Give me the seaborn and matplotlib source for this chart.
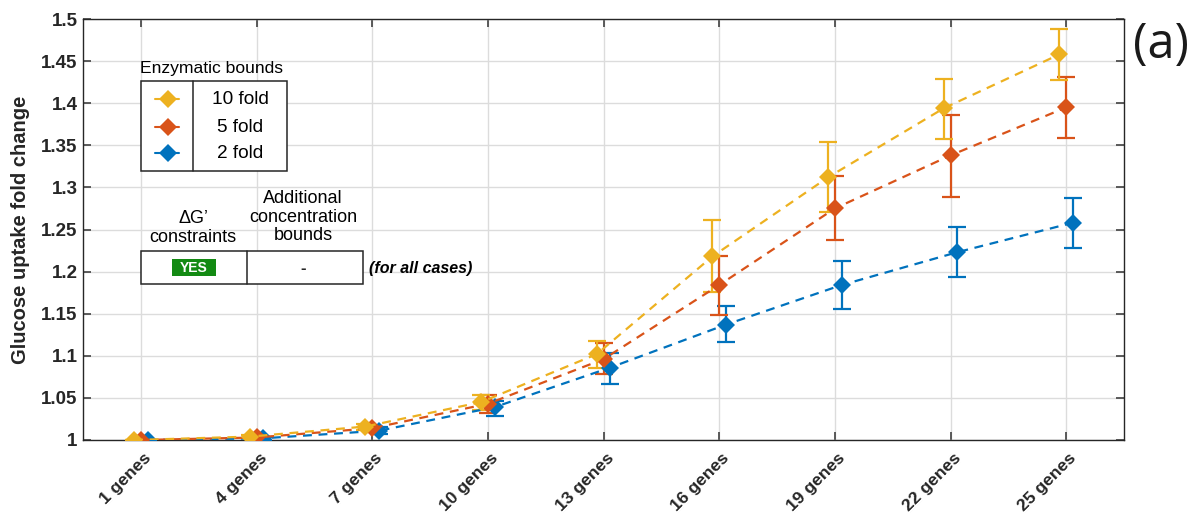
import numpy as np
import pandas as pd
import matplotlib
matplotlib.use("Agg")
import matplotlib.pyplot as plt
import matplotlib.transforms as mtransforms
import seaborn as sns
from matplotlib.patches import Rectangle
from matplotlib.lines import Line2D

# ---------------- data ----------------
categories = ["1 genes", "4 genes", "7 genes", "10 genes", "13 genes",
              "16 genes", "19 genes", "22 genes", "25 genes"]
series_names = ["10 fold", "5 fold", "2 fold"]

mean_10 = [1.000, 1.004, 1.016, 1.045, 1.102, 1.218, 1.312, 1.394, 1.458]
low_10  = [1.000, 1.002, 1.012, 1.036, 1.085, 1.176, 1.271, 1.358, 1.428]
up_10   = [1.000, 1.006, 1.019, 1.054, 1.118, 1.261, 1.354, 1.429, 1.488]

mean_5 = [1.000, 1.003, 1.014, 1.043, 1.096, 1.184, 1.275, 1.338, 1.395]
low_5  = [1.000, 1.001, 1.010, 1.032, 1.078, 1.148, 1.237, 1.289, 1.359]
up_5   = [1.000, 1.005, 1.017, 1.053, 1.115, 1.219, 1.313, 1.386, 1.431]

mean_2 = [1.000, 1.002, 1.011, 1.039, 1.086, 1.137, 1.184, 1.223, 1.258]
low_2  = [1.000, 1.000, 1.007, 1.029, 1.066, 1.116, 1.156, 1.193, 1.228]
up_2   = [1.000, 1.004, 1.015, 1.046, 1.103, 1.159, 1.212, 1.253, 1.287]

yticks = [1, 1.05, 1.1, 1.15, 1.2, 1.25, 1.3, 1.35, 1.4, 1.45, 1.5]
ytick_labels = ["1", "1.05", "1.1", "1.15", "1.2", "1.25", "1.3", "1.35", "1.4", "1.45", "1.5"]

colors = {"10 fold": "#EDB120", "5 fold": "#D95319", "2 fold": "#0072BD"}
offsets = {"10 fold": -0.058, "5 fold": 0.0, "2 fold": 0.058}

data = {
    "10 fold": (mean_10, low_10, up_10),
    "5 fold": (mean_5, low_5, up_5),
    "2 fold": (mean_2, low_2, up_2),
}

# ---------------- style ----------------
sns.set_style("white")
plt.rcParams["font.family"] = ["Liberation Sans", "DejaVu Sans"]

fig = plt.figure(figsize=(12.03, 5.16), dpi=100)
ax = fig.add_axes([83 / 1203, 76 / 516, (1124 - 83) / 1203, (440 - 19) / 516])

xbase = np.arange(len(categories))
for name in ["2 fold", "5 fold", "10 fold"]:
    m, lo, up = (np.array(v) for v in data[name])
    xs = xbase + offsets[name]
    df = pd.DataFrame({"x": xs, "y": m})
    ax.errorbar(xs, m, yerr=[m - lo, up - m], fmt="none", ecolor=colors[name],
                elinewidth=1.6, capsize=6.5, capthick=1.6, zorder=3)
    sns.lineplot(data=df, x="x", y="y", color=colors[name], marker="D",
                 markersize=9.5, markeredgewidth=0, linestyle=(0, (4, 3)),
                 linewidth=1.6, ax=ax, zorder=4, sort=False)

ax.set_xlim(-0.5, len(categories) - 0.5)
ax.set_ylim(1, 1.5)
ax.grid(True, color="#dcdcdc", linewidth=1.0)
ax.set_axisbelow(True)
ax.tick_params(direction="in", length=6, width=1.2, color="#404040",
               top=True, right=True, bottom=True, left=True)
ax.tick_params(axis="y", pad=4)
ax.tick_params(axis="x", pad=11.5)
ax.set_xticks(xbase)
ax.set_xticklabels(categories, rotation=45, ha="right", va="center",
                   rotation_mode="anchor",
                   fontsize=12.6, fontweight="bold", color="#262626")
ax.set_yticks(yticks)
ax.set_yticklabels(ytick_labels, fontsize=13.5, fontweight="bold", color="#262626")
ax.set_xlabel("")
ax.set_ylabel("Glucose uptake fold change", fontsize=14.5, fontweight="bold",
              color="#262626", labelpad=8)
for sp in ax.spines.values():
    sp.set_color("#262626")
    sp.set_linewidth(1.0)

shift = mtransforms.ScaledTranslation(8 / 100, 0, fig.dpi_scale_trans)
for lbl in ax.get_xticklabels():
    lbl.set_transform(lbl.get_transform() + shift)

# ---------------- inset tables (overlay in pixel coords) ----------------
ov = fig.add_axes([0, 0, 1, 1], facecolor="none")
ov.set_xlim(0, 1203)
ov.set_ylim(516, 0)
ov.axis("off")

# Enzymatic bounds box
ov.text(140, 68, "Enzymatic bounds", fontsize=12.6, ha="left", va="center", color="black")
ov.add_patch(Rectangle((141, 81), 146, 90, fill=True, facecolor="white",
                       edgecolor="#262626", linewidth=1.1))
ov.add_line(Line2D([193, 193], [81, 171], color="#262626", linewidth=1.1))
rows_y = [99, 127, 153]
for name, yy in zip(series_names, rows_y):
    ov.add_line(Line2D([155, 179], [yy, yy], color=colors[name], linewidth=1.5))
    ov.add_line(Line2D([168], [yy], marker="D", markersize=9, color=colors[name],
                       markeredgewidth=0))
    ov.text(240, yy, name, fontsize=13.7, ha="center", va="center", color="black")

# constraints table
ov.text(193, 228, "ΔG’\nconstraints", fontsize=13, ha="center", va="center",
        linespacing=1.13, color="black")
ov.text(303, 217, "Additional\nconcentration\nbounds", fontsize=13, ha="center",
        va="center", linespacing=1.13, color="black")
ov.add_patch(Rectangle((141, 251), 222, 33, fill=True, facecolor="white",
                       edgecolor="#262626", linewidth=1.1))
ov.add_line(Line2D([247, 247], [251, 284], color="#262626", linewidth=1.1))
ov.add_patch(Rectangle((172, 259), 44, 17, facecolor="#138a13", edgecolor="none"))
ov.text(194, 268, "YES", fontsize=10, fontweight="bold", color="white",
        ha="center", va="center")
ov.text(303, 268, "-", fontsize=12, fontweight="bold", ha="center", va="center")
ov.text(369, 268, "(for all cases)", fontsize=11.5, fontstyle="italic",
        fontweight="bold", ha="left", va="center", color="black")

# panel label
ov.text(1133, 45, "(a)", fontsize=35, ha="left", va="center", color="#1a1a1a",
        family=["Open Sans", "DejaVu Sans"])

fig.savefig("out.png", dpi=100)
